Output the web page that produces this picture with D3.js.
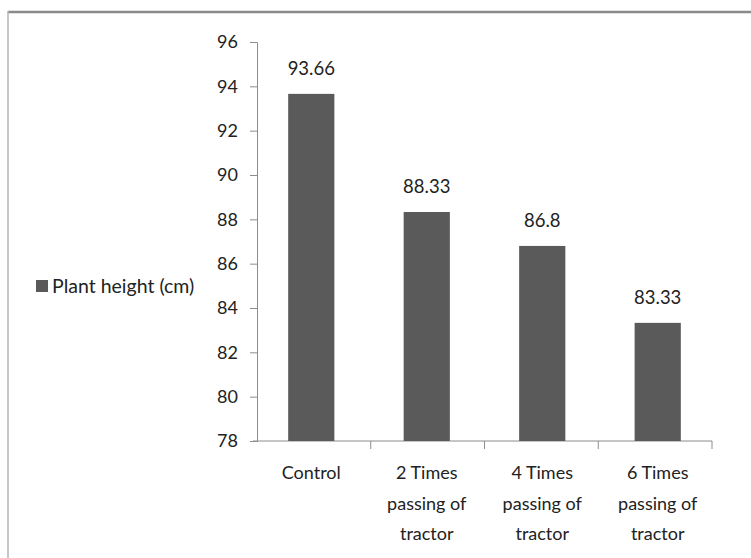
<!DOCTYPE html>
<html>
<head>
<meta charset="utf-8">
<script src="https://cdn.jsdelivr.net/npm/d3@7"></script>
<style>
  html, body { margin: 0; padding: 0; background: #fff; }
  svg { display: block; }
  text { font-family: Lato, "Open Sans", sans-serif; fill: #222; }
</style>
</head>
<body>
<svg id="chart" width="751" height="558"></svg>
<script>
// Plant height by number of tractor passes
const categories = [
  ["Control"],
  ["2 Times", "passing of", "tractor"],
  ["4 Times", "passing of", "tractor"],
  ["6 Times", "passing of", "tractor"]
];
const values = [93.66, 88.33, 86.8, 83.33];
const valueLabels = ["93.66", "88.33", "86.8", "83.33"];
const yTicks = [78, 80, 82, 84, 86, 88, 90, 92, 94, 96];
const seriesName = "Plant height (cm)";

const svg = d3.select("#chart");
const W = 751, H = 558;
const plot = { left: 257, right: 712, top: 42, bottom: 441 };
const barColor = "#5a5a5a";
const axisColor = "#8c8c8c";

// Outer frame (top and left edges)
svg.append("line").attr("x1", 8).attr("x2", W).attr("y1", 12).attr("y2", 12)
  .attr("stroke", "#8a8a8a").attr("stroke-width", 2.5);
svg.append("line").attr("x1", 8).attr("x2", 8).attr("y1", 11).attr("y2", H)
  .attr("stroke", "#b4b4b4").attr("stroke-width", 1.5);

const idx = d3.range(values.length);
const x = d3.scaleBand().domain(idx).range([plot.left, plot.right]).paddingInner(0.6).paddingOuter(0.27);
const y = d3.scaleLinear().domain([78, 96]).range([plot.bottom, plot.top]);

// Y axis
const yAxis = svg.append("g").attr("transform", `translate(${plot.left},0)`)
  .call(d3.axisLeft(y).tickValues(yTicks).tickSize(7).tickPadding(12).tickFormat(d3.format("d")));
yAxis.selectAll("path, line").attr("stroke", axisColor);
yAxis.selectAll("text").style("font-size", "18px").attr("fill", "#222");

// X axis with ticks at category boundaries
svg.append("line").attr("x1", plot.left - 4).attr("x2", plot.right).attr("y1", plot.bottom).attr("y2", plot.bottom)
  .attr("stroke", axisColor);
const bounds = d3.range(1, values.length + 1).map(i => plot.left + (plot.right - plot.left) * i / values.length);
svg.selectAll(".xtick").data(bounds).join("line")
  .attr("x1", d => d).attr("x2", d => d)
  .attr("y1", plot.bottom).attr("y2", plot.bottom + 8)
  .attr("stroke", axisColor);

// Bars
svg.selectAll(".bar").data(idx).join("rect")
  .attr("x", i => x(i)).attr("width", x.bandwidth())
  .attr("y", i => y(values[i])).attr("height", i => y(78) - y(values[i]))
  .attr("fill", barColor);

// Value labels
svg.selectAll(".val").data(idx).join("text")
  .attr("x", i => x(i) + x.bandwidth() / 2)
  .attr("y", i => y(values[i]) - 19)
  .attr("text-anchor", "middle")
  .style("font-size", "18.5px")
  .text(i => valueLabels[i]);

// Category labels
const catG = svg.selectAll(".cat").data(idx).join("text")
  .attr("text-anchor", "middle")
  .style("font-size", "18px");
catG.each(function(i) {
  const t = d3.select(this);
  categories[i].forEach((line, k) => {
    t.append("tspan")
      .attr("x", x(i) + x.bandwidth() / 2)
      .attr("y", 479 + k * 30.5)
      .text(line);
  });
});

// Legend
svg.append("rect").attr("x", 36).attr("y", 280).attr("width", 12).attr("height", 12).attr("fill", barColor);
svg.append("text").attr("x", 52).attr("y", 293).style("font-size", "19.5px").text(seriesName);
</script>
</body>
</html>
